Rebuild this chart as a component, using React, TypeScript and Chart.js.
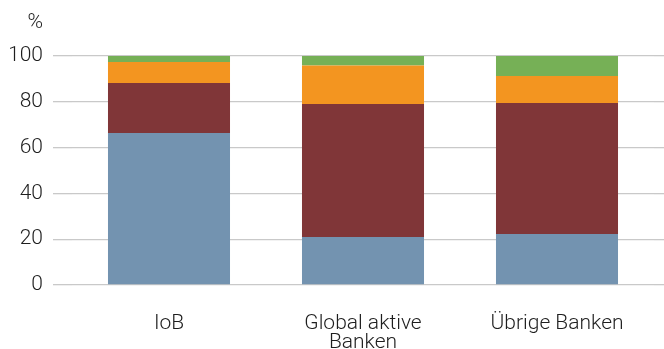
import React, { useEffect, useRef } from "react";
import { Chart, registerables } from "chart.js";

Chart.register(...registerables);

// Bank groups on the x axis
const categories: (string | string[])[] = ["IoB", ["Global aktive", "Banken"], "Übrige Banken"];

// Stacked shares in percent, bottom to top
const shareBlue = [66.4, 21.0, 22.3];
const shareRed = [21.8, 58.0, 57.2];
const shareOrange = [9.2, 16.9, 11.8];
const shareGreen = [2.6, 4.1, 8.7];

const yTicks = [0, 20, 40, 60, 80, 100];
const unitLabel = "%";

const FONT = "Roboto";
const FONT_SIZE = 21;
const GRID = "#c9c9c9";
const TEXT = "#1e1e1e";

// Writes the unit above the y-axis labels, right-aligned with them
const unitPlugin = {
  id: "unitLabel",
  afterDraw(chart: any) {
    const y = chart.scales.y;
    const { ctx } = chart;
    ctx.save();
    ctx.font = `300 ${FONT_SIZE}px ${FONT}`;
    ctx.fillStyle = TEXT;
    ctx.textAlign = "right";
    ctx.textBaseline = "middle";
    ctx.fillText(unitLabel, y.right - 19 - 10, 23);
    ctx.restore();
  },
};

export default function App() {
  const ref = useRef<HTMLCanvasElement | null>(null);

  useEffect(() => {
    if (!ref.current) return;
    const chart = new Chart(ref.current, {
      type: "bar",
      data: {
        labels: categories,
        datasets: [
          { label: "A", data: shareBlue, backgroundColor: "#7393b0" },
          { label: "B", data: shareRed, backgroundColor: "#803638" },
          { label: "C", data: shareOrange, backgroundColor: "#f39520" },
          { label: "D", data: shareGreen, backgroundColor: "#76b056" },
        ],
      },
      options: {
        animation: false,
        responsive: false,
        maintainAspectRatio: false,
        layout: { padding: { left: 10, right: 0, top: 56, bottom: 0 } },
        datasets: {
          bar: { categoryPercentage: 1, barPercentage: 0.629 },
        },
        plugins: {
          legend: { display: false },
          tooltip: { enabled: false },
        },
        scales: {
          x: {
            stacked: true,
            grid: { display: false, drawTicks: false },
            border: { display: false },
            afterFit: (s: any) => {
              s.height = 64;
            },
            ticks: {
              color: TEXT,
              padding: 29,
              maxRotation: 0,
              font: { family: FONT, size: FONT_SIZE, weight: "300", lineHeight: 0.905 },
            },
          },
          y: {
            stacked: true,
            min: 0,
            max: 100,
            afterBuildTicks: (s: any) => {
              s.ticks = yTicks.map((v) => ({ value: v }));
            },
            afterFit: (s: any) => {
              s.width = 62;
            },
            grid: { color: GRID, lineWidth: 1.3, tickLength: 19, drawTicks: true },
            border: { display: false },
            ticks: {
              color: TEXT,
              padding: 10,
              font: { family: FONT, size: FONT_SIZE, weight: "300" },
            },
          },
          y2: {
            position: "right",
            min: 0,
            max: 100,
            afterBuildTicks: (s: any) => {
              s.ticks = yTicks.map((v) => ({ value: v }));
            },
            afterFit: (s: any) => {
              s.width = 10;
            },
            grid: { color: GRID, lineWidth: 1.3, tickLength: 10, drawTicks: true, drawOnChartArea: false },
            border: { display: false },
            ticks: { display: false },
          },
        },
      },
      plugins: [unitPlugin],
    });
    return () => chart.destroy();
  }, []);

  return (
    <div style={{ position: "absolute", left: 0, top: 0, width: 664, height: 349, background: "#fff" }}>
      <canvas ref={ref} width={664} height={349} style={{ display: "block" }} />
    </div>
  );
}
